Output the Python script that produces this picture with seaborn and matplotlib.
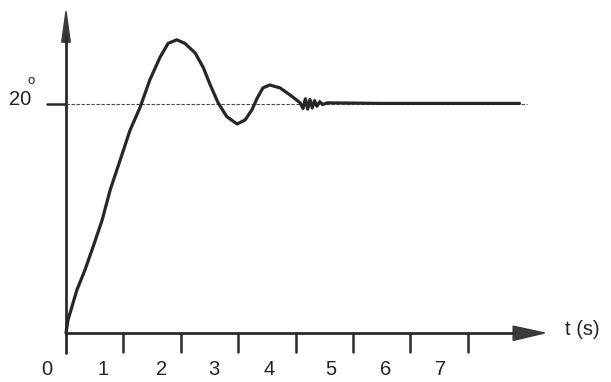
import numpy as np
import pandas as pd
import seaborn as sns
import matplotlib.pyplot as plt
from matplotlib.patches import Polygon

# step response (time in s, value in degrees)
time_s = [0.0, 0.035, 0.19, 0.33, 0.47, 0.63, 0.77, 0.95, 1.115, 1.29, 1.46,
          1.64, 1.78, 1.93, 2.07, 2.25, 2.39, 2.51, 2.65, 2.80, 2.98, 3.12,
          3.24, 3.33, 3.43, 3.55, 3.73, 3.90, 4.08, 4.13, 4.17, 4.21, 4.25,
          4.29, 4.33, 4.37, 4.42, 4.47, 4.55, 5.5, 6.5, 7.9]
value = [0.0, 1.14, 3.76, 5.5, 7.5, 9.87, 12.5, 15.2, 17.7, 19.7, 22.1,
         24.1, 25.3, 25.6, 25.3, 24.45, 23.2, 21.7, 20.1, 18.9, 18.25, 18.6,
         19.5, 20.5, 21.4, 21.66, 21.4, 20.8, 20.1, 19.6, 20.45, 19.55, 20.4,
         19.65, 20.3, 19.8, 20.2, 19.95, 20.1, 20.05, 20.05, 20.05]
set_point = 20
tick_values = [1, 2, 3, 4, 5, 6, 7]
tick_labels = ["0", "1", "2", "3", "4", "5", "6", "7"]
label_pos = [-0.34, 0.64, 1.67, 2.58, 3.54, 4.62, 5.57, 6.52]

df = pd.DataFrame({"t": time_s, "y": value})

sns.set_style("white")
plt.rcParams["font.family"] = ["Liberation Sans", "DejaVu Sans"]

fig = plt.figure(figsize=(6.11, 3.82), dpi=100)
ax = fig.add_axes([0, 0, 1, 1])
ax.set_xlim(-1.15, 9.495)
ax.set_ylim(-4.28, 29.08)
ax.axis("off")

ink = "#2b2b2b"

# axes drawn as arrows
ax.plot([0, 0], [-1.75, 26], color=ink, lw=2)
ax.add_patch(Polygon([[-0.075, 25.4], [0.075, 25.4], [0.0, 28.1]],
                     closed=True, color="#3a3a3a"))
ax.plot([0, 7.8], [0, 0], color=ink, lw=2)
ax.add_patch(Polygon([[7.79, -0.65], [7.79, 0.6], [8.34, 0.0]],
                     closed=True, color="#3a3a3a"))

for tv in tick_values:
    ax.plot([tv, tv], [0, -1.7], color=ink, lw=1.8)
for pos, lab in zip(label_pos, tick_labels):
    ax.text(pos, -3.2, lab, fontsize=14.5, ha="center", va="center",
            color="#222222")
ax.text(8.69, 0.3, "t (s)", fontsize=14.5, ha="left", va="center",
        color="#222222")

# set point level
ax.plot([-0.33, 0], [set_point, set_point], color=ink, lw=1.8)
ax.plot([0, 8.03], [set_point, set_point], color="#444444", lw=0.8,
        linestyle=(0, (3, 1.5)))
ax.text(-0.8, set_point + 0.35, "20", fontsize=14.5, ha="center",
        va="center", color="#222222")
ax.text(-0.6, 22.0, "o", fontsize=9.5, ha="center", va="center",
        color="#222222")

sns.lineplot(data=df, x="t", y="y", ax=ax, color="#262626", lw=2.3,
             sort=False, estimator=None)

fig.savefig("out.png", dpi=100)
